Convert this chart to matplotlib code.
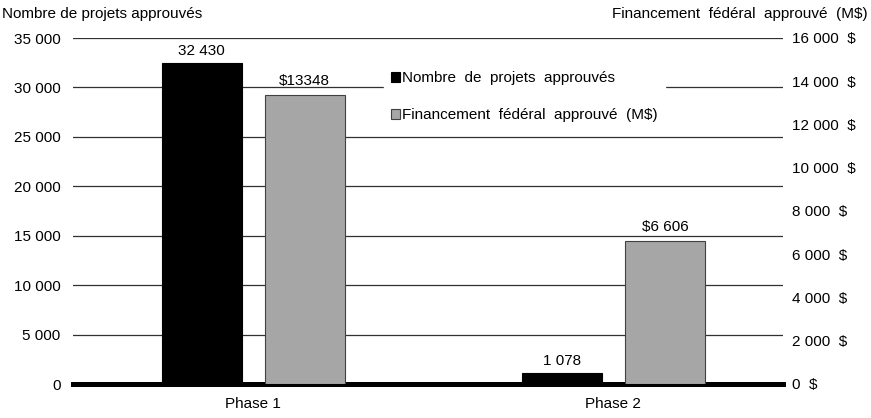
import numpy as np
import matplotlib
matplotlib.use("Agg")
import matplotlib.pyplot as plt
from matplotlib.ticker import FuncFormatter, MultipleLocator

# Data
phases = ["Phase 1", "Phase 2"]
projects = [32430, 1078]
funding = [13348, 6606]
project_labels = ["32 430", "1 078"]
funding_labels = ["$13348", "$6 606"]

plt.rcParams['font.family'] = ['Liberation Sans', 'DejaVu Sans']
plt.rcParams['font.size'] = 11


def space_thousands(v, pos=None):
    return f"{int(round(v)):,}".replace(",", " ")


fig = plt.figure(figsize=(8.71, 4.18), dpi=100)
ax = fig.add_axes([73 / 871, 1 - 384 / 418, 710 / 871, 346 / 418])
ax2 = ax.twinx()

x = np.arange(len(phases))
w = 80 / 360
off = 51.5 / 360

b1 = ax.bar(x - off, projects, w, color="black", edgecolor="black", lw=0.8, zorder=3)
b2 = ax2.bar(x + off, funding, w, color="#a6a6a6", edgecolor="#404040", lw=0.8, zorder=3)

ax.bar_label(b1, labels=project_labels, padding=4)
ax2.bar_label(b2, labels=funding_labels, padding=5)

ax.set_xlim(-0.5, (783 - 253.5) / 360)
ax.set_ylim(0, 35000)
ax2.set_ylim(0, 16000)
ax.yaxis.set_major_locator(MultipleLocator(5000))
ax2.yaxis.set_major_locator(MultipleLocator(2000))
ax.yaxis.set_major_formatter(FuncFormatter(space_thousands))
ax2.yaxis.set_major_formatter(FuncFormatter(lambda v, p: space_thousands(v) + "  $"))

ax.grid(axis="y", color="#303030", lw=0.9, zorder=0)
ax.set_axisbelow(True)
for a in (ax, ax2):
    for s in ("top", "left", "right"):
        a.spines[s].set_visible(False)
    a.spines["bottom"].set_linewidth(3.5)
ax.tick_params(length=0, pad=9)
ax2.tick_params(length=0, pad=6.5)
ax.set_xticks(x)
ax.set_xticklabels(phases)
ax.tick_params(axis="x", pad=9)

# Legend
handles = [b1, b2]
names = ["Nombre  de  projets  approuvés", "Financement  fédéral  approuvé  (M$)"]
leg = ax2.legend(handles, names, loc="upper left", bbox_to_anchor=((376 - 73) / 710, 1 - (56 - 38) / 346),
                 frameon=True, fancybox=False, framealpha=1, edgecolor="white",
                 handlelength=0.6, handleheight=0.6, handletextpad=0.1,
                 labelspacing=1.5, borderpad=0.5)
leg.set_zorder(10)

fig.text(2 / 871, 1 - 14 / 418, "Nombre de projets approuvés", ha="left", va="center")
fig.text(868 / 871, 1 - 14 / 418, "Financement  fédéral  approuvé  (M$)", ha="right", va="center")

fig.savefig("out.png", dpi=100)
